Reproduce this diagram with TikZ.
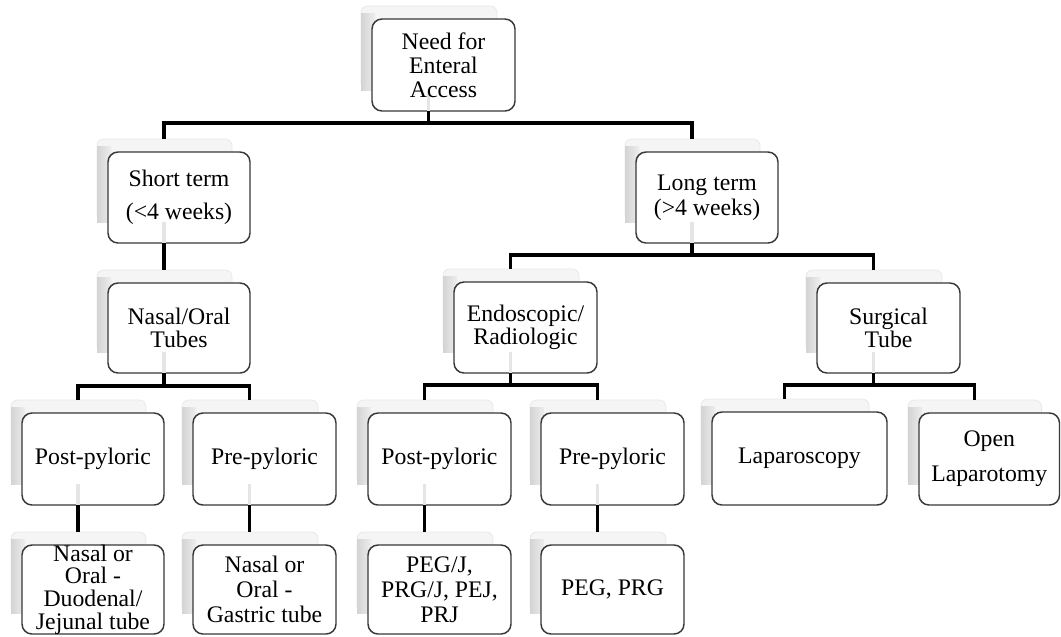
\documentclass[tikz,border=0pt]{standalone}
\usepackage{fontspec}
\setmainfont{Liberation Serif}
\begin{document}
\begin{tikzpicture}[x=0.75pt, y=-0.75pt,
  box/.style={draw=black!78, line width=1.1pt, fill=white, rounded corners=7.5pt,
    inner sep=0pt},
  label/.style={align=center, inner sep=0pt, text=black},
  cardback/.style={fill=black!4, draw=black!9, line width=0.6pt, rounded corners=5pt},
  cardedge/.style={left color=black!17, right color=black!7},
  conn/.style={line width=2.3pt, black, line join=miter},
  ghost/.style={line width=2.3pt, black!10}]
\useasboundingbox (0,0) rectangle (1061,636);

% card frame: name, left, top, right, bottom
\newcommand\card[5]{%
  \fill[cardback] (#2-11,#3-13) rectangle (#4-18,#5-21);
  \shade[cardedge] (#2-11,#3-6) rectangle (#2+3,#5-21);
  \node[box, minimum width={(#4-#2)*0.75pt}, minimum height={(#5-#3)*0.75pt}]
    (#1) at ({(#2+#4)/2},{(#3+#5)/2}) {};
  \coordinate (#1-top) at ({(#2+#4)/2-15},{#3-13});
  \coordinate (#1-bot) at ({(#2+#4)/2-15},#5);
  \coordinate (#1-mid) at ({(#2+#4)/2-15},{#5-21});
}
% card text: name, baselineskip (pt), text
\newcommand\cardtext[3]{%
  \node[label, font=\fontsize{17.8pt}{#2pt}\selectfont] (#1-txt) at (#1.center) {#3};
}

% frames
\card{root}{372}{19}{515}{111}
\card{short}{108}{152}{250}{243}
\card{long}{636}{152}{778}{243}
\card{nasal}{108}{283}{250}{373}
\card{endo}{454}{282}{597}{373}
\card{surg}{817}{283}{960}{373}
\card{postA}{22}{413}{164}{505}
\card{preA}{193}{413}{336}{505}
\card{postB}{368}{413}{511}{505}
\card{preB}{541}{413}{684}{505}
\card{lap}{712}{412}{887}{505}
\card{open}{919}{413}{1059.5}{505}
\card{tubeA}{22}{545}{164}{634}
\card{tubeB}{193}{545}{336}{634}
\card{tubeC}{368}{545}{511}{634}
\card{tubeD}{541}{545}{684}{634}

% faint stems seen through the boxes
\foreach \n in {root,short,long,nasal,endo,surg,postA,preA,postB,preB}
  \draw[ghost] (\n-mid) -- (\n-bot);

% texts
\cardtext{root}{18}{Need for\\Enteral\\Access}
\cardtext{short}{24.75}{Short term\\(<4 weeks)}
\cardtext{long}{18.75}{Long term\\(>4 weeks)}
\cardtext{nasal}{17.25}{Nasal/Oral\\Tubes}
\cardtext{endo}{17.25}{Endoscopic/\\Radiologic}
\cardtext{surg}{17.25}{Surgical\\Tube}
\cardtext{postA}{18}{Post-pyloric}
\cardtext{preA}{18}{Pre-pyloric}
\cardtext{postB}{18}{Post-pyloric}
\cardtext{preB}{18}{Pre-pyloric}
\cardtext{lap}{18}{Laparoscopy}
\cardtext{open}{26.25}{Open\\Laparotomy}
\cardtext{tubeA}{16.9}{Nasal or\\Oral -\\Duodenal/\\Jejunal tube}
\cardtext{tubeB}{18.75}{Nasal or\\Oral -\\Gastric tube}
\cardtext{tubeC}{18.75}{PEG/J,\\PRG/J, PEJ,\\PRJ}
\cardtext{tubeD}{18}{PEG, PRG}

% connectors
\draw[conn] (root-bot) -- ++(0,12) -| (short-top);
\draw[conn] (root-bot) -- ++(0,12) -| (long-top);
\draw[conn] (short-bot) -- (nasal-top);
\draw[conn] (long-bot) -- ++(0,12) -| (endo-top);
\draw[conn] (long-bot) -- ++(0,12) -| (surg-top);
\draw[conn] (nasal-bot) -- ++(0,13) -| (postA-top);
\draw[conn] (nasal-bot) -- ++(0,13) -| (preA-top);
\draw[conn] (endo-bot) -- ++(0,12) -| (postB-top);
\draw[conn] (endo-bot) -- ++(0,12) -| (preB-top);
\draw[conn] (surg-bot) -- ++(0,12) -| (lap-top);
\draw[conn] (surg-bot) -- ++(0,12) -| (open-top);
\draw[conn] (postA-bot) -- (tubeA-top);
\draw[conn] (preA-bot) -- (tubeB-top);
\draw[conn] (postB-bot) -- (tubeC-top);
\draw[conn] (preB-bot) -- (tubeD-top);
\end{tikzpicture}
\end{document}
